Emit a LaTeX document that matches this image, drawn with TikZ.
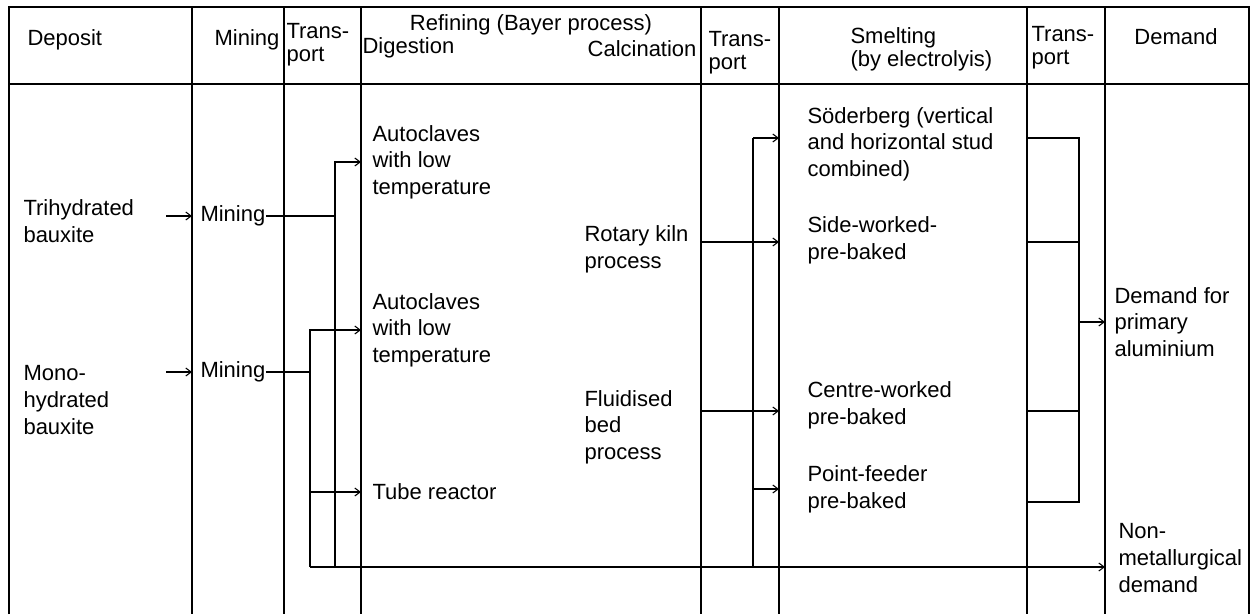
\documentclass[tikz,border=0pt]{standalone}
\usepackage{fontspec}
\setmainfont{Liberation Sans}
\usetikzlibrary{arrows.meta}

\begin{document}
\begin{tikzpicture}[x=0.75pt,y=-0.75pt,line width=0.8pt,
        >={Straight Barb[length=4pt,width=6pt]},
        txt/.style={anchor=west,align=left,inner sep=0pt,font=\fontsize{16.5}{20}\selectfont},
        hd/.style={txt,font=\fontsize{16.5}{17.5}\selectfont}]
    \useasboundingbox (0,0) rectangle (1255,614);
    % Columns
    \coordinate (cMin) at (192,7);
    \coordinate (cTr1) at (284,7);
    \coordinate (cRef) at (361,7);
    \coordinate (cTr2) at (701,7);
    \coordinate (cSme) at (779,7);
    \coordinate (cTr3) at (1027,7);
    \coordinate (cDem) at (1105,7);
    \draw (9,614) -- (9,7) -- (1249,7) -- (1249,614);
    \draw (9,84) -- (1249,84);
    \foreach \x in {192,284,361,701,779,1027,1105}
        \draw (\x,7) -- (\x,614);

    % Header
    \node[hd] (hDep) at (27,40) {Deposit};
    \node[hd,anchor=east] (hMin) at (280,40) {Mining};
    \node[hd] (hTr1) at (286,45) {Trans-\\port};
    \node[hd,anchor=center] (hRef) at (531,25) {Refining (Bayer process)};
    \node[hd] (hDig) at (362,48) {Digestion};
    \node[hd,anchor=east] (hCal) at (697,49) {Calcination};
    \node[hd] (hTr2) at (708,53) {Trans-\\port};
    \node[hd] (hSme) at (850,49) {Smelting\\(by electrolyis)};
    \node[hd] (hTr3) at (1031,48) {Trans-\\port};
    \node[hd,anchor=center] (hDem) at (1176,37) {Demand};

    % Body
    \node[txt] (tri) at (23,221) {Trihydrated\\bauxite};
    \node[txt] (mono) at (23,400) {Mono-\\hydrated\\bauxite};
    \node[txt] (min1) at (200,216) {Mining};
    \node[txt] (min2) at (200,372) {Mining};
    \node[txt] (auto1) at (372,162) {Autoclaves\\with low\\temperature};
    \node[txt] (auto2) at (372,330) {Autoclaves\\with low\\temperature};
    \node[txt] (tube) at (372,492) {Tube reactor};
    \node[txt] (kiln) at (584,249) {Rotary kiln\\process};
    \node[txt] (fluid) at (584,427) {Fluidised\\bed\\process};
    \node[txt] (sod) at (807,144) {Söderberg (vertical\\and horizontal stud\\combined)};
    \node[txt] (side) at (807,240) {Side-worked-\\pre-baked};
    \node[txt] (centre) at (807,405) {Centre-worked\\pre-baked};
    \node[txt] (point) at (807,489) {Point-feeder\\pre-baked};
    \node[txt] (prim) at (1114,322) {Demand for\\primary\\aluminium};
    \node[txt] (nonmet) at (1118,558) {Non-\\metallurgical\\demand};

    % Deposit to mining
    \coordinate (a1) at (166,216);
    \coordinate (a2) at (166,372);
    \draw[->] (a1) -- (a1 -| cMin);
    \draw[->] (a2) -- (a2 -| cMin);

    % Mining to digestion
    \coordinate (j1) at (335,216);
    \coordinate (j2) at (310,372);
    \coordinate (jb) at (310,567);
    \draw (min1.east) -- (j1);
    \draw[->] (j1) |- (auto1.west -| cRef);
    \draw (j1) -- (j1 |- jb);
    \draw (min2.east) -- (j2);
    \draw[->] (j2) |- (auto2.west -| cRef);
    \draw[->] (tube.west -| j2) -- (tube.west -| cRef);
    \draw (auto2.west -| j2) -- (jb);
    \draw[->] (jb) -- (jb -| cDem);

    % Calcination to smelting
    \coordinate (k1) at (701,242);
    \coordinate (k2) at (701,411);
    \coordinate (t1) at (753,138);
    \coordinate (t2) at (753,567);
    \draw[->] (k1) -- (k1 -| cSme);
    \draw[->] (k2) -- (k2 -| cSme);
    \draw (t1) -- (t2);
    \draw[->] (t1) -- (t1 -| cSme);
    \draw[->] (point.west -| t1) -- (point.west -| cSme);

    % Smelting to demand
    \coordinate (d1) at (1079,138);
    \coordinate (d2) at (1079,502);
    \draw (d1 -| cTr3) -- (d1) -- (d2) -- (d2 -| cTr3);
    \draw (k1 -| cTr3) -- (k1 -| d1);
    \draw (k2 -| cTr3) -- (k2 -| d1);
    \draw[->] (prim.west -| d1) -- (prim.west -| cDem);
\end{tikzpicture}
\end{document}
